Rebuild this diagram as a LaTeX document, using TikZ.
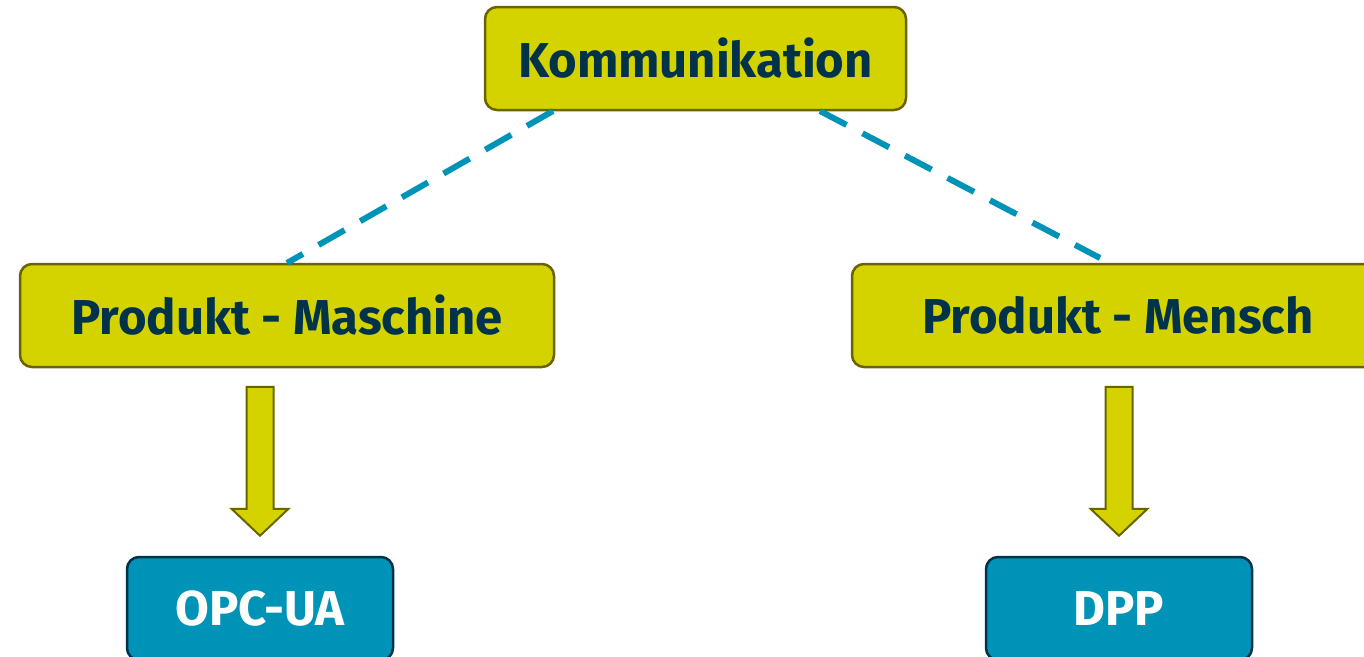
\documentclass[tikz,border=0pt]{standalone}
\usepackage{fontspec}
\setmainfont{Fira Sans}
\usetikzlibrary{calc}
\definecolor{lime}{HTML}{D4D300}
\definecolor{olive}{HTML}{6B6200}
\definecolor{navy}{HTML}{003349}
\definecolor{teal}{HTML}{0093B8}
\begin{document}
\begin{tikzpicture}[x=1pt,y=-1pt,
  limebox/.style={draw=olive, line width=2.5pt, fill=lime, rounded corners=12pt,
    minimum height=103pt, text=navy, font=\fontsize{49}{54}\selectfont\bfseries, inner sep=0pt},
  bluebox/.style={draw=navy, line width=2.5pt, fill=teal, rounded corners=12pt,
    minimum height=103pt, minimum width=266pt, text=white, font=\fontsize{49}{54}\selectfont\bfseries, inner sep=0pt},
  dashlink/.style={draw=teal, line width=6pt, dash pattern=on 30pt off 18pt},
  blockarrow/.style={draw=olive, line width=2pt, fill=lime, line join=miter}]
\useasboundingbox (0,0) rectangle (1364,656);
\clip (0,0) rectangle (1364,656);
\node[limebox, minimum width=421pt] (kom) at (695.5,58.5) {Kommunikation};
\node[limebox, minimum width=534pt] (mas) at (287,315.5) {Produkt - Maschine};
\node[limebox, minimum width=532pt] (men) at (1118,315.5) {Produkt - Mensch};
\node[bluebox] (opc) at (260,608.5) {OPC-UA};
\node[bluebox] (dpp) at (1119,608.5) {DPP};
\coordinate (k1) at (553,111);
\coordinate (m1) at (287,263);
\coordinate (k2) at (820,111);
\coordinate (m2) at (1100,258);
\draw[dashlink] (k1) -- (m1);
\draw[dashlink] (k2) -- (m2);
% block arrows
\draw[blockarrow] ($(opc.north)+(-13.5,-169)$) -- ($(opc.north)+(13.5,-169)$) -- ($(opc.north)+(13.5,-47)$)
  -- ($(opc.north)+(28.5,-47)$) -- ($(opc.north)+(0,-20)$) -- ($(opc.north)+(-28.5,-47)$)
  -- ($(opc.north)+(-13.5,-47)$) -- cycle;
\draw[blockarrow] ($(dpp.north)+(-13.5,-169)$) -- ($(dpp.north)+(13.5,-169)$) -- ($(dpp.north)+(13.5,-47)$)
  -- ($(dpp.north)+(28.5,-47)$) -- ($(dpp.north)+(0,-20)$) -- ($(dpp.north)+(-28.5,-47)$)
  -- ($(dpp.north)+(-13.5,-47)$) -- cycle;
\end{tikzpicture}
\end{document}
